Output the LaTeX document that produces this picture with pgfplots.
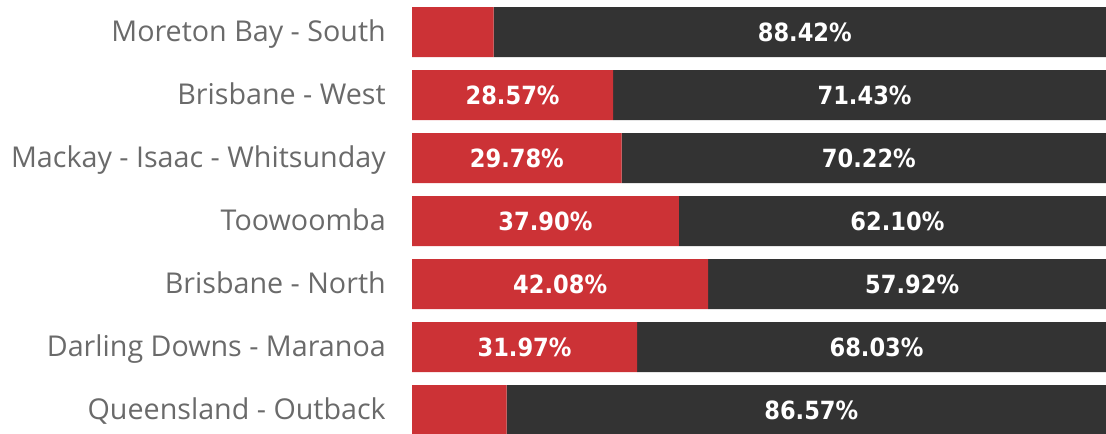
\documentclass[border=0pt]{standalone}
\usepackage{pgfplots}
\pgfplotsset{compat=1.18}
\usepackage{pgfplotstable}
\usepackage{fontspec}
\setmainfont{Open Sans}
\newfontfamily\valfont{DejaVu Sans Condensed}[BoldFont={DejaVu Sans Condensed Bold}]
\definecolor{barred}{HTML}{CC3236}
\definecolor{bardark}{HTML}{333333}
\definecolor{labgray}{HTML}{6A6A6A}

\pgfplotstableread{
y red dark
0 11.58 88.42
1 28.57 71.43
2 29.78 70.22
3 37.90 62.10
4 42.08 57.92
5 31.97 68.03
6 13.43 86.57
}\data

\pgfplotstableread{
y red
1 28.57
2 29.78
3 37.90
4 42.08
5 31.97
}\redlab

\pgfplotsset{
  geom/.style={
    at={(309pt,-6.375pt)}, anchor=south west,
    scale only axis, width=528pt, height=330.75pt,
    xmin=0, xmax=100, ymin=-0.5, ymax=6.5, y dir=reverse,
  },
  vallab/.style={
    only marks, mark=none, point meta=explicit,
    nodes near coords={\pgfmathprintnumber[fixed,fixed zerofill,precision=2,assume math mode=true]{\pgfplotspointmeta}\%},
    every node near coord/.append style={anchor=center, text=white,
      font=\valfont\bfseries\fontsize{18.8pt}{22pt}\selectfont, inner sep=0pt,
      text height=0.729em, text depth=0pt, yshift=-3.5pt},
  },
}

\begin{document}
\begin{tikzpicture}
\useasboundingbox (0,0) rectangle (829.5pt,324.75pt);
\clip (0,0) rectangle (829.5pt,324.75pt);
\begin{axis}[
  geom,
  xbar stacked, bar width=0.7937,
  axis line style={draw=none},
  xtick=\empty,
  ytick={0,1,2,3,4,5,6},
  yticklabels={Moreton Bay - South, Brisbane - West, Mackay - Isaac - Whitsunday, Toowoomba, Brisbane - North, Darling Downs - Maranoa, Queensland - Outback},
  major tick length=0pt,
  yticklabel style={font=\fontsize{21.5pt}{24pt}\selectfont, text=labgray, anchor=east, inner sep=0pt, xshift=-19.5pt, text height=0.714em, text depth=0pt, yshift=-3.5pt},
  clip=false,
]
\addplot[fill=barred, draw=none] table[x=red, y=y] {\data};
\addplot[fill=bardark, draw=none] table[x=dark, y=y] {\data};
\end{axis}
\begin{axis}[geom, hide axis, clip=false]
\addplot[vallab] table[x expr=\thisrow{red}/2, y=y, meta=red] {\redlab};
\addplot[vallab] table[x expr=\thisrow{red}+\thisrow{dark}/2, y=y, meta=dark] {\data};
\end{axis}
\end{tikzpicture}
\end{document}
